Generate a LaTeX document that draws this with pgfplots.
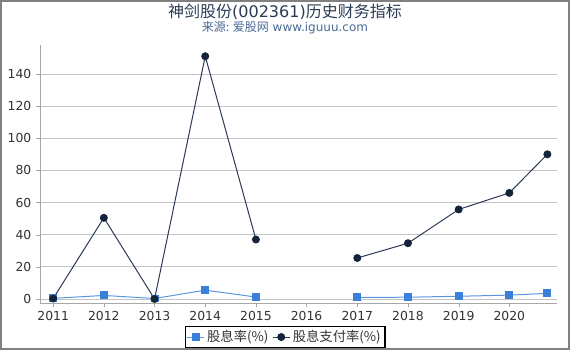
\documentclass[border=0pt]{standalone}
\usepackage{fontspec}
\setmainfont{DejaVu Sans}
\newfontfamily\cjk{Noto Sans CJK SC}
\usepackage{pgfplots}
\pgfplotsset{compat=1.18}
\definecolor{blueS}{HTML}{3A80D8}
\definecolor{blueL}{HTML}{5A96E0}
\definecolor{darkS}{HTML}{15243A}
\definecolor{darkL}{HTML}{2A3A55}
\definecolor{titleC}{HTML}{2B3B55}
\definecolor{subC}{HTML}{4A6A95}
\definecolor{gridC}{HTML}{C4C4C4}
\definecolor{axisC}{HTML}{A8A8A8}
\definecolor{tickC}{HTML}{333333}
\begin{document}
\begin{tikzpicture}
\useasboundingbox (0,0) rectangle (427.5pt,262.5pt);
\begin{axis}[
  at={(30pt,35.25pt)}, anchor=south west,
  scale only axis, width=387.75pt, height=193.5pt,
  xmin=-0.26, xmax=9.94, ymin=-2.5, ymax=158,
  axis x line*=bottom, axis y line*=left,
  axis line style={axisC, -},
  xtick={0,...,9},
  xticklabels={2011,2012,2013,2014,2015,2016,2017,2018,2019,2020},
  ytick={0,20,...,140},
  ymajorgrids, grid style={gridC, line width=0.6pt},
  tick align=outside, major tick length=3pt,
  tick style={axisC},
  ticklabel style={font=\fontsize{9.3}{10}\selectfont, text=tickC},
  /pgf/number format/assume math mode=true,
  unbounded coords=jump,
  legend style={at={(0.474,-0.132)}, anchor=center, draw=black, line width=0.8pt,
    font=\fontsize{10}{11}\selectfont\cjk, text=tickC, inner sep=1.2pt,
    /tikz/every even column/.append style={column sep=1pt}},
  legend columns=2,
  legend image code/.code={\draw[mark repeat=2,mark phase=2] plot coordinates {(0cm,0cm)(0.22cm,0cm)(0.44cm,0cm)};},
]
\addplot[blueL, line width=0.75pt, mark=square*, mark size=2.6pt, mark options={blueS, fill=blueS}]
coordinates {(0,0.4)(1,2.2)(2,0.3)(3,5.5)(4,1.2)(5,nan)(6,1.0)(7,1.1)(8,1.7)(9,2.4)(9.75,3.5)};
\addlegendentry{股息率(\%)}
\addplot[darkL, line width=0.75pt, mark=*, mark size=2.6pt, mark options={darkS, fill=darkS}]
coordinates {(0,0.3)(1,50.5)(2,0)(3,151)(4,37)(5,nan)(6,25.5)(7,34.7)(8,55.7)(9,66)(9.75,90)};
\addlegendentry{股息支付率(\%)}
\end{axis}
\node[text=titleC, font=\fontsize{12}{14}\selectfont] at (213.75pt,254pt) {{\cjk 神剑股份}(002361){\cjk 历史财务指标}};
\node[text=subC, font=\fontsize{9}{10}\selectfont] at (213.75pt,241.5pt) {{\cjk 来源: 爱股网} www.iguuu.com};
\draw[gray, line width=1.5pt] (0.75pt,0.75pt) rectangle (426.75pt,261.75pt);
\end{tikzpicture}
\end{document}
